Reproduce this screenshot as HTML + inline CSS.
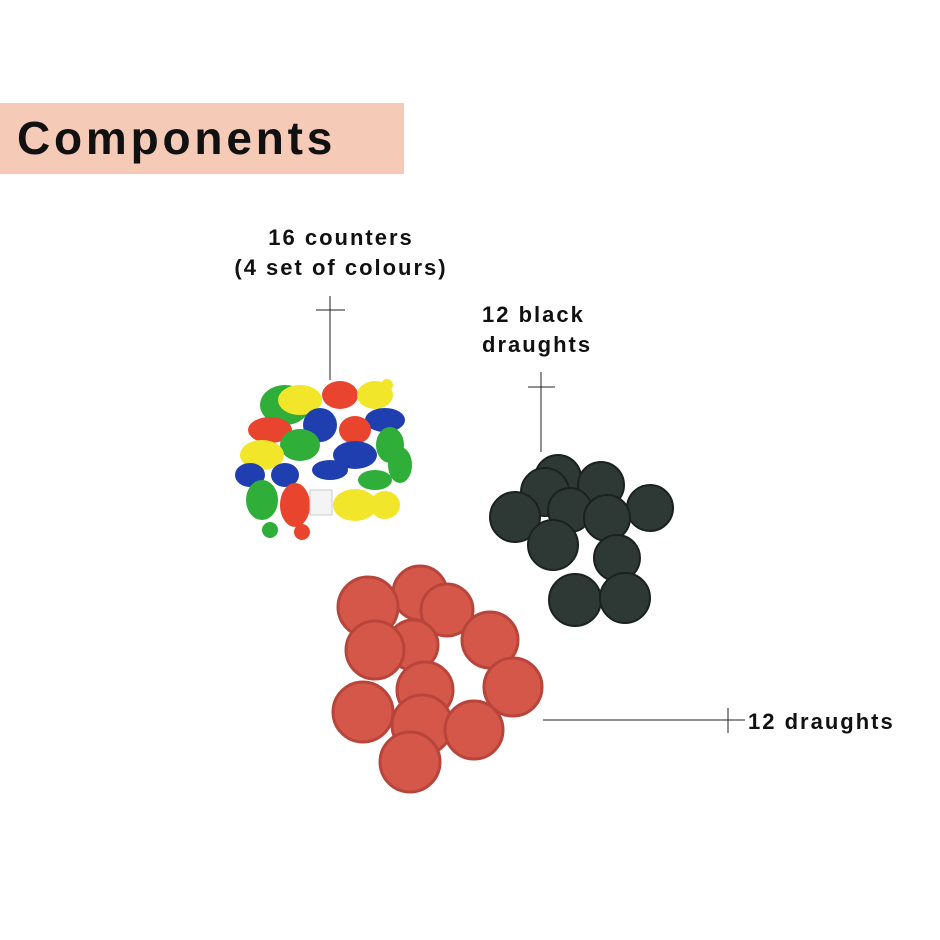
<!DOCTYPE html>
<html><head><style>
body{margin:0;width:940px;height:940px;background:#fff;overflow:hidden;font-family:"Liberation Sans",sans-serif}
</style></head><body>
<svg width="940" height="940" xmlns="http://www.w3.org/2000/svg" style="position:absolute;left:0;top:0">
<rect x="0" y="103" width="404" height="71" fill="#f5cab6"/>
<text x="17" y="154" font-family="Liberation Sans" font-size="46" font-weight="bold" fill="#111" letter-spacing="3.8">Components</text>
<g font-family="Liberation Sans" font-size="22" font-weight="bold" fill="#111" letter-spacing="2">
<text x="341" y="245" text-anchor="middle">16 counters</text>
<text x="341" y="275" text-anchor="middle">(4 set of colours)</text>
<text x="482" y="322">12 black</text>
<text x="482" y="352">draughts</text>
<text x="748" y="729">12 draughts</text>
</g>
<g stroke="#222" stroke-width="1">
<line x1="316" y1="310" x2="345" y2="310"/><line x1="330" y1="296" x2="330" y2="380"/>
<line x1="528" y1="387" x2="555" y2="387"/><line x1="541" y1="372" x2="541" y2="452"/>
<line x1="543" y1="720" x2="745" y2="720"/><line x1="728" y1="708" x2="728" y2="733"/>
</g>
<g>
<ellipse cx="285" cy="405" rx="25" ry="20" fill="#2fae3a"/>
<ellipse cx="300" cy="400" rx="22" ry="15" fill="#f2e62a"/>
<ellipse cx="340" cy="395" rx="18" ry="14" fill="#e8442e"/>
<ellipse cx="375" cy="395" rx="18" ry="14" fill="#f2e62a"/>
<ellipse cx="385" cy="420" rx="20" ry="12" fill="#1f3fb0"/>
<ellipse cx="270" cy="430" rx="22" ry="13" fill="#e8442e"/>
<ellipse cx="320" cy="425" rx="17" ry="17" fill="#1f3fb0"/>
<ellipse cx="355" cy="430" rx="16" ry="14" fill="#e8442e"/>
<ellipse cx="300" cy="445" rx="20" ry="16" fill="#2fae3a"/>
<ellipse cx="262" cy="455" rx="22" ry="15" fill="#f2e62a"/>
<ellipse cx="355" cy="455" rx="22" ry="14" fill="#1f3fb0"/>
<ellipse cx="390" cy="445" rx="14" ry="18" fill="#2fae3a"/>
<ellipse cx="400" cy="465" rx="12" ry="18" fill="#2fae3a"/>
<ellipse cx="330" cy="470" rx="18" ry="10" fill="#1f3fb0"/>
<ellipse cx="250" cy="475" rx="15" ry="12" fill="#1f3fb0"/>
<ellipse cx="285" cy="475" rx="14" ry="12" fill="#1f3fb0"/>
<ellipse cx="375" cy="480" rx="17" ry="10" fill="#2fae3a"/>
<ellipse cx="262" cy="500" rx="16" ry="20" fill="#2fae3a"/>
<ellipse cx="295" cy="505" rx="15" ry="22" fill="#e8442e"/>
<rect x="310" y="490" width="22" height="25" fill="#f4f4f4" stroke="#ccc"/>
<ellipse cx="355" cy="505" rx="22" ry="16" fill="#f2e62a"/>
<ellipse cx="385" cy="505" rx="15" ry="14" fill="#f2e62a"/>
<circle cx="270" cy="530" r="8" fill="#2fae3a"/>
<circle cx="302" cy="532" r="8" fill="#e8442e"/>
<circle cx="387" cy="385" r="6" fill="#f2e62a"/>
</g>
<g fill="#2e3936" stroke="#1a2220" stroke-width="2">
<circle cx="558" cy="478" r="23"/><circle cx="601" cy="485" r="23"/><circle cx="650" cy="508" r="23"/>
<circle cx="545" cy="492" r="24"/><circle cx="515" cy="517" r="25"/><circle cx="570" cy="510" r="22"/>
<circle cx="607" cy="518" r="23"/><circle cx="553" cy="545" r="25"/><circle cx="617" cy="558" r="23"/>
<circle cx="575" cy="600" r="26"/><circle cx="625" cy="598" r="25"/>
</g>
<g fill="#d4574a" stroke="#b9453a" stroke-width="3">
<circle cx="420" cy="593" r="27"/><circle cx="447" cy="610" r="26"/><circle cx="368" cy="607" r="30"/>
<circle cx="490" cy="640" r="28"/><circle cx="413" cy="645" r="25"/><circle cx="375" cy="650" r="29"/>
<circle cx="425" cy="690" r="28"/><circle cx="513" cy="687" r="29"/><circle cx="363" cy="712" r="30"/>
<circle cx="422" cy="725" r="30"/><circle cx="474" cy="730" r="29"/><circle cx="410" cy="762" r="30"/>
</g>
</svg>
</body></html>
